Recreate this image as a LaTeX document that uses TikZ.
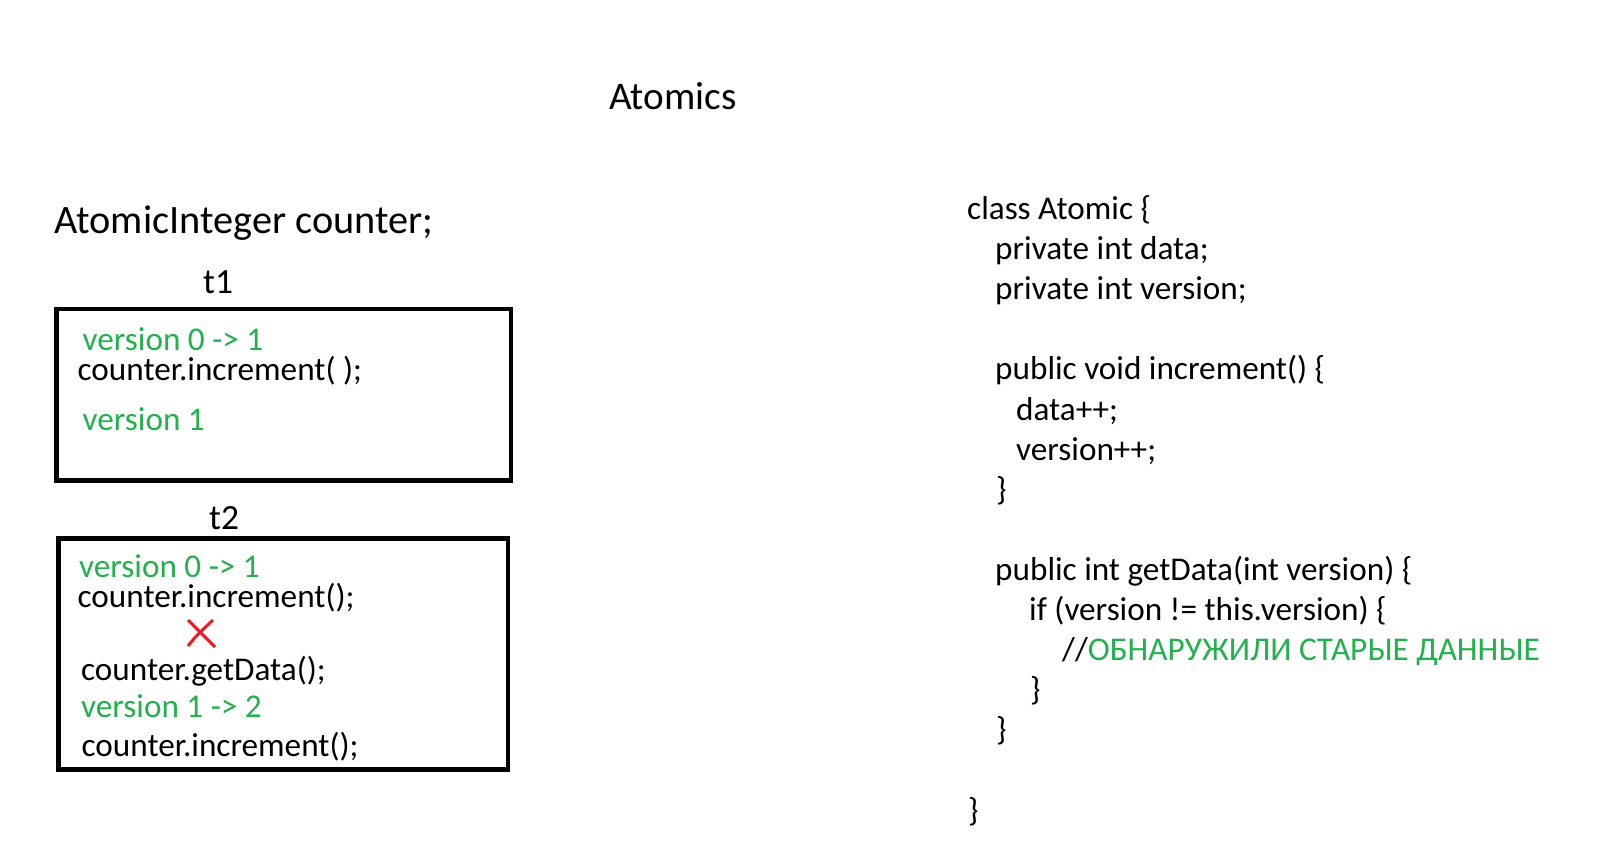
\documentclass[tikz,border=0pt]{standalone}
\usepackage{fontspec}
\setmainfont{Carlito}
\definecolor{vgreen}{RGB}{34,177,76}
\definecolor{xred}{RGB}{237,28,36}

\begin{document}
\begin{tikzpicture}[x=1pt, y=-1pt,
  txt/.style={anchor=base west, inner sep=0pt, font=\fontsize{33.2}{40}\selectfont},
  ver/.style={txt, text=vgreen},
  thread/.style={draw, rectangle, line width=4.7pt, inner sep=0pt, outer sep=0pt}]

\useasboundingbox (0,0) rectangle (1598,841);

% figure title
\node[anchor=base west, inner sep=0pt, font=\fontsize{39.2}{46}\selectfont] at (609, 109) (title) {Atomics};

% left side, threads
\node[anchor=base west, inner sep=0pt, font=\fontsize{40.3}{46}\selectfont] at (54, 233) (decl) {AtomicInteger counter;};
\node[anchor=base west, inner sep=0pt, font=\fontsize{35.5}{40}\selectfont] at (203, 293.5) (t1) {t1};
\node[anchor=base west, inner sep=0pt, font=\fontsize{35.5}{40}\selectfont] at (209, 529.5) (t2) {t2};

% t1 box
\node[thread, minimum width=454.5pt, minimum height=171.5pt] at (283.75, 394.75) (box1) {};
\node[ver] at (82.5, 350) (t1v0) {version 0 -> 1};
\node[txt] at (77.5, 380) (t1inc) {counter.increment( );};
\node[ver] at (82.5, 430) (t1v1) {version 1};

% t2 box
\node[thread, minimum width=449.5pt, minimum height=231pt] at (283.25, 654) (box2) {};
\node[ver] at (79, 577) (t2v0) {version 0 -> 1};
\node[txt] at (77.5, 607) (t2inc) {counter.increment();};
\draw[xred, line width=3pt] (188, 620) -- (215, 647);
\draw[xred, line width=3pt] (188, 646) .. controls (196, 636) .. (213, 620);
\node[txt] at (81, 680) (t2get) {counter.getData();};
\node[ver] at (81, 717) (t2v1) {version 1 -> 2};
\node[txt] at (81.5, 756) (t2inc2) {counter.increment();};

% class Atomic, right side
\node[txt] at (967, 219.5) (cls) {class Atomic \{};
\node[txt] at (995, 259.6) (fdata) {private int data;};
\node[txt] at (995, 299.7) (fver) {private int version;};

\node[txt] at (995, 379.9) (minc) {public void increment() \{};
\node[txt] at (1016, 420.0) (incd) {data++;};
\node[txt] at (1016, 460.1) (incv) {version++;};
\node[txt] at (996, 500.2) (mincend) {\}};

\node[txt] at (995, 580.4) (mget) {public int getData(int version) \{};
\node[txt] at (1029, 620.5) (mif) {if (version != this.version) \{};
\node[txt] at (1062, 660.6) (mcom) {//\textcolor{vgreen}{ОБНАРУЖИЛИ СТАРЫЕ ДАННЫЕ}};
\node[txt] at (1030, 700.7) (mifend) {\}};
\node[txt] at (996, 740.8) (mgetend) {\}};

\node[txt] at (968, 821.0) (clsend) {\}};

\end{tikzpicture}
\end{document}
